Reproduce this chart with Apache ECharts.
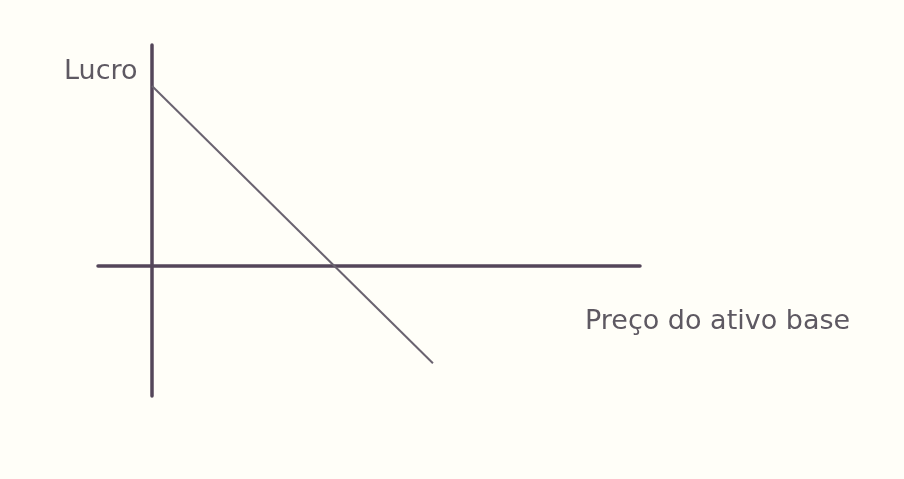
<!DOCTYPE html>
<html>
<head>
<meta charset="utf-8">
<script src="https://cdn.jsdelivr.net/npm/echarts@6/dist/echarts.min.js"></script>
<style>
  html, body { margin: 0; padding: 0; background: #fffef8; }
  #chart { width: 904px; height: 479px; }
</style>
</head>
<body>
<div id="chart"></div>
<script>
// preço do ativo base (x) e lucro (y) da posição
var precos = [0, 15.6];
var lucros = [10, -5.4];
var yLabel = 'Lucro';
var xLabel = 'Preço do ativo base';

var chart = echarts.init(document.getElementById('chart'));

var axisColor = '#54465a';
var textColor = '#5e5962';

chart.setOption({
  backgroundColor: '#fffef8',
  animation: false,
  grid: { left: 98, right: 264, top: 45, bottom: 83 },
  xAxis: {
    type: 'value',
    min: -3,
    max: 27.1,
    axisLine: { show: true, onZero: true, lineStyle: { color: axisColor, width: 3.5 } },
    axisTick: { show: false },
    axisLabel: { show: false },
    splitLine: { show: false }
  },
  yAxis: {
    type: 'value',
    min: -7.22,
    max: 12.28,
    axisLine: { show: true, onZero: true, lineStyle: { color: axisColor, width: 3.5 } },
    axisTick: { show: false },
    axisLabel: { show: false },
    splitLine: { show: false }
  },
  series: [{
    type: 'line',
    data: precos.map(function (p, i) { return [p, lucros[i]]; }),
    symbol: 'none',
    lineStyle: { color: '#6a6370', width: 2 }
  }],
  graphic: [
    {
      type: 'text', x: 64, y: 72,
      style: { text: yLabel, fill: textColor, font: '27px "DejaVu Sans"', verticalAlign: 'middle' }
    },
    {
      type: 'text', x: 585, y: 322,
      style: { text: xLabel, fill: textColor, font: '27px "DejaVu Sans"', verticalAlign: 'middle' }
    }
  ]
});
</script>
</body>
</html>
